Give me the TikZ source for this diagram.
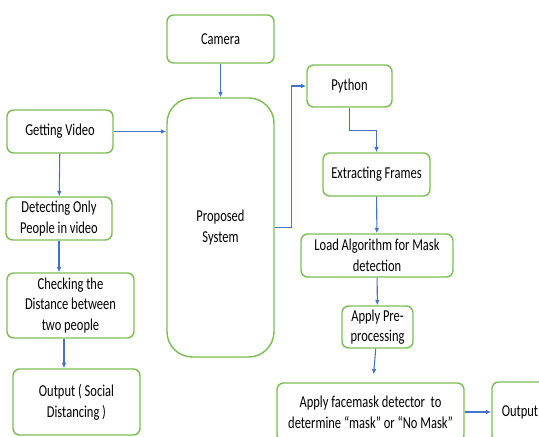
\documentclass[tikz,border=0pt]{standalone}
\usepackage{fontspec}
\setmainfont{Carlito}[FakeStretch=0.75]
\usepackage{tikz}
\usetikzlibrary{arrows.meta}
\definecolor{boxgreen}{RGB}{125,190,85}
\definecolor{arrblue}{RGB}{68,114,196}

\begin{document}
\begin{tikzpicture}[x=0.75pt, y=-0.75pt,
        box/.style = {draw=boxgreen, line width=1.1pt, rounded corners=5pt, align=center, inner sep=0pt, font=\fontsize{12.5}{15.5}\selectfont},
        arr/.style = {-{Latex[length=4pt,width=3.5pt]}, draw=arrblue, line width=0.8pt}]
            \useasboundingbox (0,0) rectangle (539,436);
            \clip (0,0) rectangle (539,436);

            \node[box, minimum width=80.25pt, minimum height=36pt] (cam) at (220.5,39) {Camera};
            \node[box, minimum width=80.25pt, minimum height=194.25pt, rounded corners=19pt] (sys) at (220.5,227.5) {Proposed\\System};

            \node[box, minimum width=79.5pt, minimum height=32.25pt] (video) at (60,131.5) {Getting Video};
            \node[box, minimum width=79.5pt, minimum height=32.25pt] (people) at (59,218.5) {Detecting Only\\People in video};
            \node[box, minimum width=95.25pt, minimum height=48.75pt] (dist) at (70.5,305.5) {Checking the\\Distance between\\two people};
            \node[box, minimum width=95.25pt, minimum height=49.5pt] (social) at (76.5,402) {Output ( Social\\Distancing )};

            \node[box, minimum width=63.75pt, minimum height=31.5pt] (python) at (349.5,86) {Python};
            \node[box, minimum width=80.25pt, minimum height=32.25pt] (frames) at (376.5,174.5) {Extracting Frames};
            \node[box, minimum width=114pt, minimum height=32.25pt] (algo) at (377,255.5) {Load Algorithm for Mask\\detection};
            \node[box, minimum width=53.25pt, minimum height=31.5pt] (prep) at (377.5,327) {Apply Pre-\\processing};
            \node[box, minimum width=140.25pt, minimum height=43.5pt] (detect) at (370.5,412) {Apply facemask detector\ \ to\\determine “mask” or “No Mask”};
            \node[box, minimum width=42pt, minimum height=45pt] (out) at (520,412) {Output};

            \draw[arr] (cam) -- (sys);
            \draw[arr] (video) -- (video -| sys.west);
            \draw[arr] (video) -- (people);
            \draw[arr] (people.south) -- (people.south |- dist.north);
            \draw[arr] ([xshift=-4.9pt]dist.south) -- ([xshift=-4.9pt]dist.south |- social.north);

            \draw[arr] (sys.east) -- ++(17,0) |- (python);
            \draw[arr] (python.south) -- ++(0,23) -| (frames.north);
            \draw[arr] (frames) -- (algo);
            \draw[arr] (algo) -- (prep);
            \draw[arr, shorten >=6pt] (prep) -- (detect);
            \draw[arr] (detect) -- (out);
        \end{tikzpicture}
\end{document}
